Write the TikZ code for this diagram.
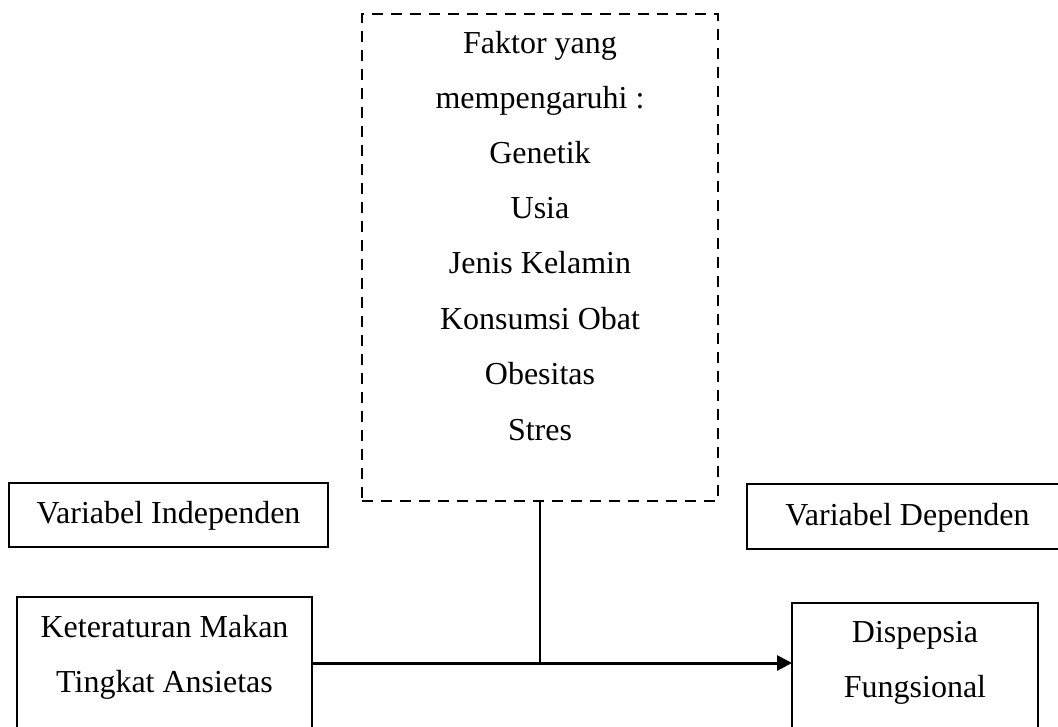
\documentclass[tikz,border=0pt]{standalone}
\usepackage{fontspec}
\setmainfont{Liberation Serif}
\usetikzlibrary{arrows.meta}
\begin{document}
\begin{tikzpicture}[x=1pt,y=-1pt,
  box/.style={draw,line width=1.9pt,rectangle,inner sep=0pt,outer sep=0pt},
  dashbox/.style={box,line width=2.7pt,dash pattern=on 11pt off 8pt},
  lbl/.style={anchor=base,inner sep=0pt,font=\fontsize{32}{38}\selectfont},
  conn/.style={line width=1.9pt},
  arr/.style={line width=3pt,-{Triangle[length=15pt,width=15pt]}}
]
\clip (0,0) rectangle (1058,726);
\fill[white] (0,0) rectangle (1058,726);
% dashed factor box
\node[dashbox,minimum width=356pt,minimum height=487pt] (faktor) at (540,257.5) {};
\node[lbl] (f1) at (540,53) {Faktor yang};
\node[lbl] (f2) at (540,108) {mempengaruhi :};
\node[lbl] (f3) at (540,163) {Genetik};
\node[lbl] (f4) at (540,218) {Usia};
\node[lbl] (f5) at (540,273) {Jenis Kelamin};
\node[lbl] (f6) at (540,329) {Konsumsi Obat};
\node[lbl] (f7) at (540,384) {Obesitas};
\node[lbl] (f8) at (540,440) {Stres};
% variable labels
\node[box,minimum width=319pt,minimum height=64pt] (vi) at (168.5,515) {};
\node[lbl] (vit) at (168.5,523) {Variabel Independen};
\node[box,minimum width=321pt,minimum height=65pt] (vd) at (907.5,516.5) {};
\node[lbl] (vdt) at (907.5,525) {Variabel Dependen};
% independent variables
\node[box,minimum width=295pt,minimum height=132pt] (ket) at (164.5,663) {};
\node[lbl] (k1) at (164.5,637) {Keteraturan Makan};
\node[lbl] (k2) at (164.5,692) {Tingkat Ansietas};
% dependent variable
\node[box,minimum width=246pt,minimum height=138pt] (dis) at (915,672) {};
\node[lbl] (d1) at (915,642) {Dispepsia};
\node[lbl] (d2) at (915,697) {Fungsional};
% connectors
\coordinate (j) at (faktor.south |- ket.east);
\draw[arr] (ket.east) -- (ket.east -| dis.west);
\draw[conn] (faktor.south) -- (j);
\end{tikzpicture}
\end{document}
